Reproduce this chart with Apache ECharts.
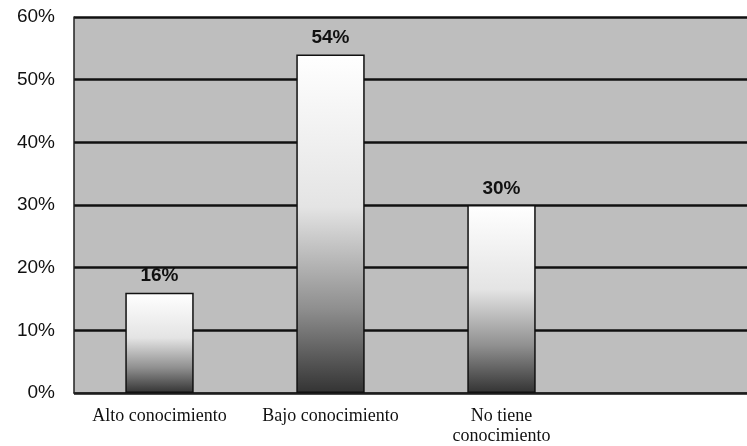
<!DOCTYPE html>
<html><head><meta charset="utf-8">
<script src="https://cdn.jsdelivr.net/npm/echarts@6/dist/echarts.min.js"></script>
<style>html,body{margin:0;padding:0;background:#fff;overflow:hidden}#c{width:758px;height:446px}</style>
</head><body><div id="c"></div>
<script>
const categories = ['Alto conocimiento', 'Bajo conocimiento', 'No tiene\nconocimiento', ''];
const values = [16, 54, 30, null];
const yTicks = [0, 10, 20, 30, 40, 50, 60];

const chart = echarts.init(document.getElementById('c'));
chart.setOption({
  animation: false,
  backgroundColor: '#fff',
  grid: { left: 74, right: 0, top: 17, bottom: 50, show: true, backgroundColor: '#bebebe', borderWidth: 0 },
  xAxis: {
    type: 'category', data: categories,
    axisLine: { show: true, lineStyle: { color: '#222', width: 1.5 } },
    axisTick: { show: false },
    axisLabel: { fontFamily: 'Liberation Serif', fontSize: 18, color: '#111', margin: 13, lineHeight: 20, interval: 0 }
  },
  yAxis: {
    type: 'value', min: 0, max: 60, interval: 10,
    axisLine: { show: true, lineStyle: { color: '#222', width: 1.5 } },
    axisTick: { show: false },
    axisLabel: { formatter: v => v + '%', fontFamily: 'Liberation Sans', fontSize: 19, color: '#111', margin: 19 },
    splitLine: { show: true, lineStyle: { color: '#111', width: 2.5 } }
  },
  series: [{
    type: 'bar', data: values, barWidth: '40%',
    itemStyle: {
      borderColor: '#111', borderWidth: 1.5,
      color: new echarts.graphic.LinearGradient(0, 0, 0, 1, [
        { offset: 0, color: '#ffffff' },
        { offset: 0.45, color: '#e4e4e4' },
        { offset: 0.75, color: '#8f8f8f' },
        { offset: 1, color: '#333333' }
      ])
    },
    label: { show: true, position: 'top', distance: 7, formatter: p => p.value + '%', fontFamily: 'Liberation Sans', fontWeight: 'bold', fontSize: 19, color: '#111' }
  }]
});
</script></body></html>
